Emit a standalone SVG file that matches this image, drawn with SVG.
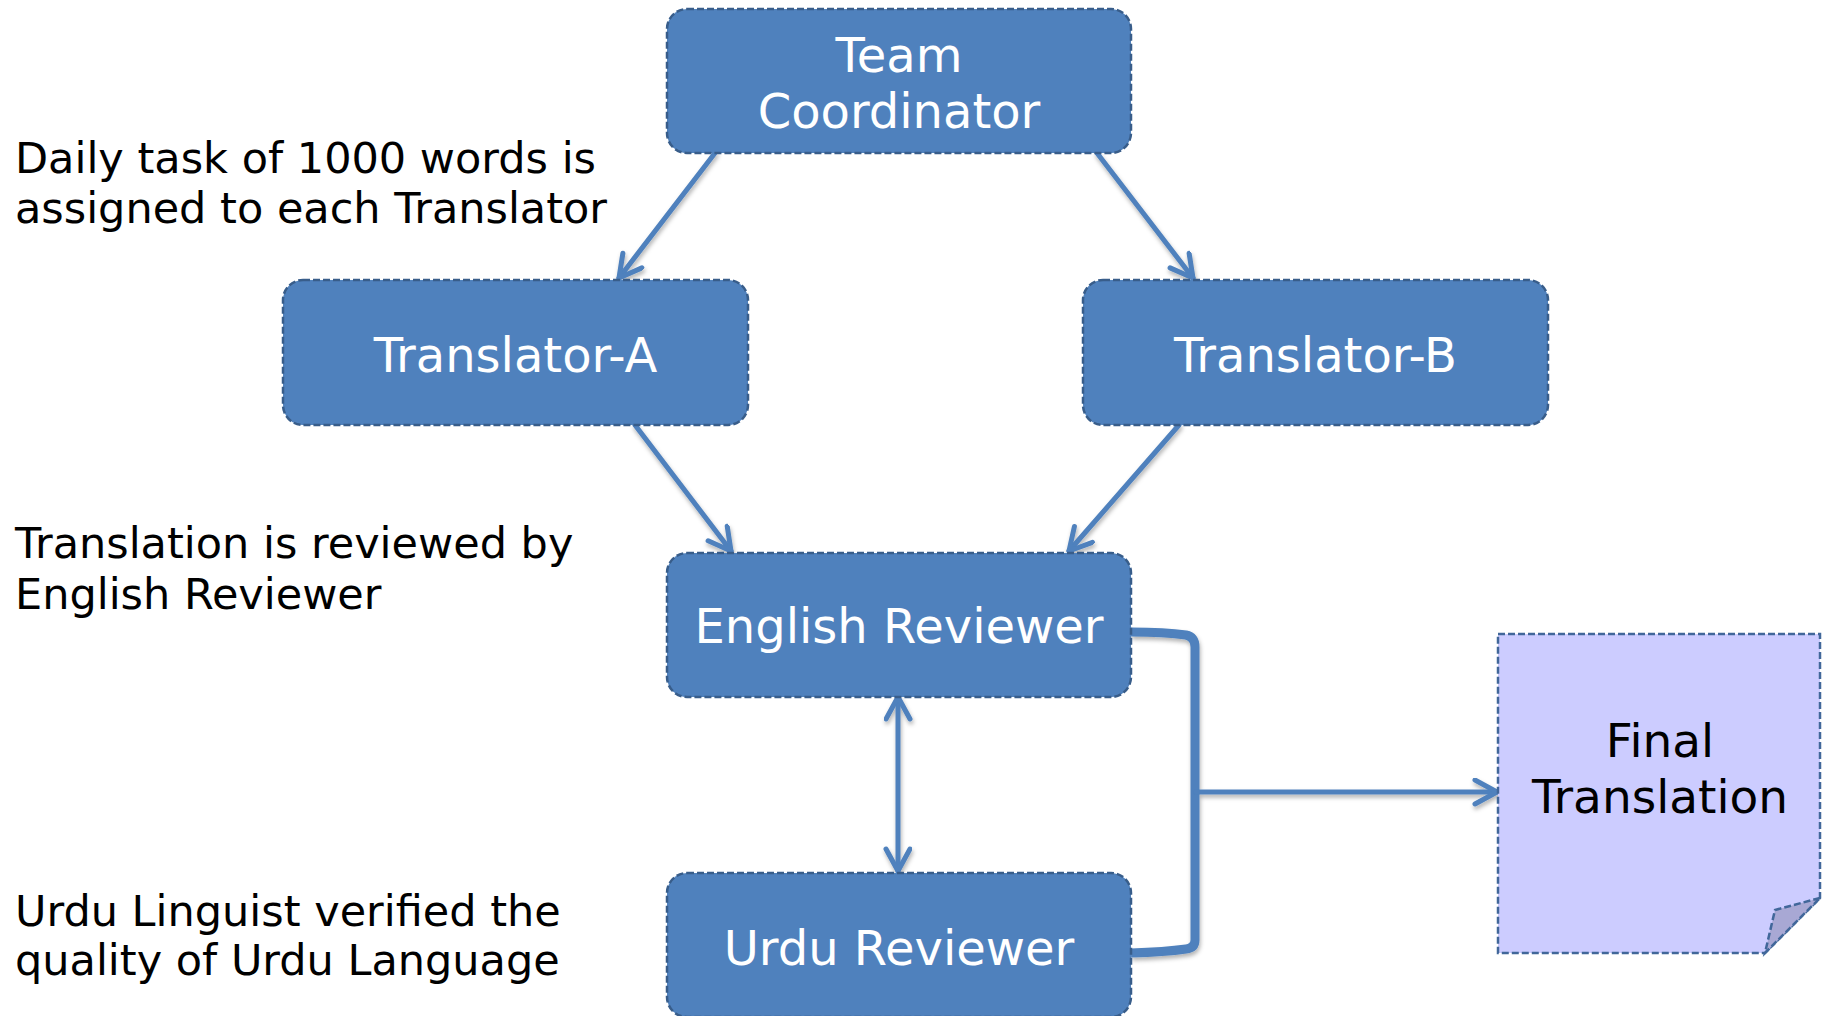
<svg xmlns="http://www.w3.org/2000/svg" width="1830" height="1016" viewBox="0 0 1830 1016">
  <style>
    .node rect { fill: #4F81BD; stroke: #385D8A; stroke-width: 2.5; stroke-dasharray: 7 3; }
    .node text { fill: #FFFFFF; font-family: "DejaVu Sans", Verdana, sans-serif; font-size: 48px; text-anchor: middle; }
    .note { fill: #000000; font-family: "DejaVu Sans", Verdana, sans-serif; font-size: 43px; }
    .doc { fill: #CCCCFF; stroke: #41679A; stroke-width: 2.5; stroke-dasharray: 7 3; }
    .fold { fill: #A8A8D4; stroke: #41679A; stroke-width: 2.5; stroke-dasharray: 7 3; }
    .doc-text { fill: #000000; font-family: "DejaVu Sans", Verdana, sans-serif; font-size: 47px; text-anchor: middle; }
    .link { fill: none; stroke: #4F81BD; stroke-width: 5; stroke-linecap: round; stroke-linejoin: round; }
    .brace { fill: none; stroke: #4F81BD; stroke-width: 9; stroke-linejoin: round; }
  </style>
  <defs>
    <marker id="arrow" markerUnits="userSpaceOnUse" markerWidth="32" markerHeight="32" refX="25" refY="14" orient="auto-start-reverse">
      <path d="M3,2 L25,14 L3,26" fill="none" stroke="#4F81BD" stroke-width="5" stroke-linecap="round" stroke-linejoin="round"/>
    </marker>
    <filter id="shadow" x="-20%" y="-20%" width="140%" height="140%">
      <feDropShadow dx="1" dy="3" stdDeviation="2" flood-color="#000000" flood-opacity="0.3"/>
    </filter>
  </defs>

  <!-- annotations on the left -->
  <g id="notes">
    <text class="note" x="15" y="173">Daily task of 1000 words is</text>
    <text class="note" x="15" y="223">assigned to each Translator</text>
    <text class="note" x="15" y="558">Translation is reviewed by</text>
    <text class="note" x="15" y="609">English Reviewer</text>
    <text class="note" x="15" y="926">Urdu Linguist verified the</text>
    <text class="note" x="15" y="975">quality of Urdu Language</text>
  </g>

  <!-- connectors -->
  <g id="connectors" filter="url(#shadow)">
    <line class="link" x1="715" y1="153" x2="619" y2="278" marker-end="url(#arrow)"/>
    <line class="link" x1="1097" y1="153" x2="1193" y2="278" marker-end="url(#arrow)"/>
    <line class="link" x1="635" y1="425" x2="731" y2="551" marker-end="url(#arrow)"/>
    <line class="link" x1="1179" y1="425" x2="1069" y2="551" marker-end="url(#arrow)"/>
    <line class="link" x1="898" y1="697" x2="898" y2="871" marker-start="url(#arrow)" marker-end="url(#arrow)"/>
    <path class="brace" d="M1131,632 Q1165,632 1186,635 Q1195,637 1195,647 L1195,940 Q1195,948 1186,949 Q1165,952 1131,953"/>
    <line class="link" x1="1196" y1="792" x2="1497" y2="792" marker-end="url(#arrow)"/>
  </g>

  <g id="team-coordinator" class="node">
    <rect x="667" y="9" width="464" height="144" rx="20"/>
    <text x="899" y="72">Team</text>
    <text x="899" y="128">Coordinator</text>
  </g>

  <g id="translator-a" class="node">
    <rect x="283" y="280" width="465" height="145" rx="20"/>
    <text x="515.5" y="372">Translator-A</text>
  </g>

  <g id="translator-b" class="node">
    <rect x="1083" y="280" width="465" height="145" rx="20"/>
    <text x="1315.5" y="372">Translator-B</text>
  </g>

  <g id="english-reviewer" class="node">
    <rect x="667" y="553" width="464" height="144" rx="20"/>
    <text x="899" y="643">English Reviewer</text>
  </g>

  <g id="urdu-reviewer" class="node">
    <rect x="667" y="873" width="464" height="144" rx="20"/>
    <text x="899" y="965">Urdu Reviewer</text>
  </g>

  <g id="final-translation">
    <path class="doc" d="M1498,634 H1820 V898 L1765,953 H1498 Z"/>
    <path class="fold" d="M1820,898 L1775,910 L1765,953 Z"/>
    <text class="doc-text" x="1660" y="757">Final</text>
    <text class="doc-text" x="1660" y="813">Translation</text>
  </g>
</svg>
